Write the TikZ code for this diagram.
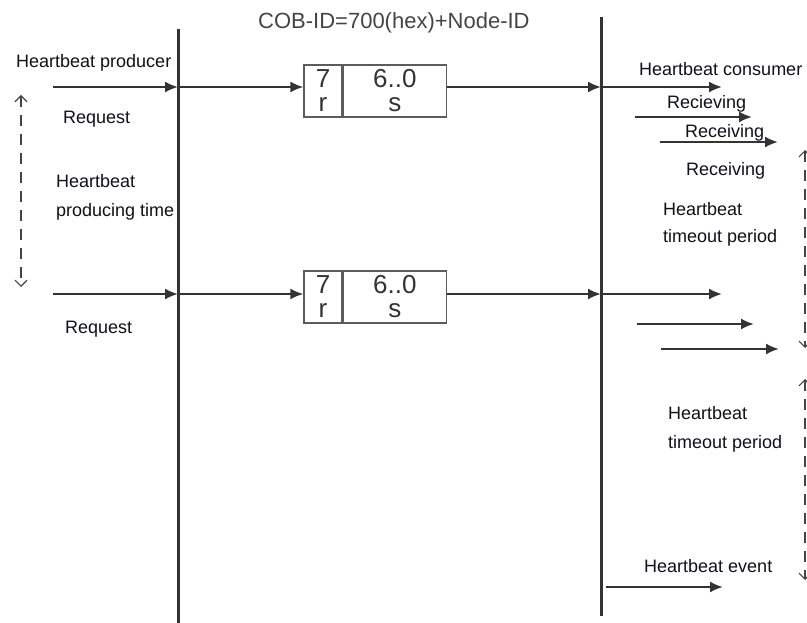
\documentclass[tikz,border=0pt]{standalone}
\usepackage{fontspec}
\setmainfont{Liberation Sans}
\usetikzlibrary{arrows.meta}
\definecolor{ln}{HTML}{333333}
\definecolor{txt}{HTML}{10101A}
\definecolor{ttl}{HTML}{444444}
\definecolor{dsh}{HTML}{444444}
\begin{document}
\begin{tikzpicture}[x=1pt,y=-1pt,
  lbl/.style={anchor=base west, inner sep=0pt, font=\fontsize{18}{20}\selectfont, text=txt},
  ttlstyle/.style={anchor=base west, inner sep=0pt, font=\fontsize{22}{24}\selectfont, text=ttl},
  msg/.style={draw=ln, line width=2pt, -{Latex[length=13pt,width=11pt]}},
  vline/.style={draw=ln, line width=3pt},
  cell/.style={draw=ln!80, line width=1.3pt, fill=white, inner sep=0pt, align=center,
               minimum height=52pt, font=\fontsize{26}{24}\selectfont, text=ln},
  period/.style={draw=dsh, line width=2.2pt, dash pattern=on 11pt off 8pt,
               {Straight Barb[length=6pt,width=12pt,line width=1.2pt]}-{Straight Barb[length=6pt,width=12pt,line width=1.2pt]}}]
\useasboundingbox (0,0) rectangle (807,623);

% lifelines
\coordinate (Ltop) at (178,29);
\coordinate (Lbot) at (178,623);
\coordinate (Rtop) at (601,17);
\coordinate (Rbot) at (601,616);
\draw[vline] (Ltop) -- (Lbot);
\draw[vline] (Rtop) -- (Rbot);

% title
\node[ttlstyle] (title) at (258,29) {COB-ID=700(hex)+Node-ID};

% left labels
\node[lbl] (prod) at (16,68) {Heartbeat producer};
\node[lbl] (req1) at (63,124) {Request};
\node[lbl] (hb1) at (56,188) {Heartbeat};
\node[lbl] (pt1) at (56,217) {producing time};
\node[lbl] (req2) at (65,333) {Request};

% right labels
\node[lbl] (cons) at (639,76) {Heartbeat consumer};
\node[lbl] (rc1) at (667,109) {Recieving};
\node[lbl] (rc2) at (685,138) {Receiving};
\node[lbl] (rc3) at (686,176) {Receiving};
\node[lbl] (hb2) at (663,216) {Heartbeat};
\node[lbl] (to2) at (663,243) {timeout period};
\node[lbl] (hb3) at (668,419) {Heartbeat};
\node[lbl] (to3) at (668,448) {timeout period};
\node[lbl] (ev) at (644,572) {Heartbeat event};

% message boxes
\node[cell, minimum width=38pt] (b1a) at (323,91) {7\\r};
\node[cell, minimum width=103pt, anchor=west] (b1b) at (b1a.east) {6..0\\s};
\node[cell, minimum width=38pt] (b2a) at (323,297) {7\\r};
\node[cell, minimum width=103pt, anchor=west] (b2b) at (b2a.east) {6..0\\s};

% row 1
\coordinate (p1) at (53,87);
\coordinate (l1) at (178,87);
\coordinate (r1) at (601,87);
\coordinate (c1) at (722,87);
\coordinate (d1s) at (635,117);
\coordinate (d1e) at (752,117);
\coordinate (e1s) at (660,142);
\coordinate (e1e) at (778,142);
\draw[msg] (p1) -- (l1);
\draw[msg] (l1) -- (b1a.west |- l1);
\draw[msg] (b1b.east |- r1) -- (r1);
\draw[msg] (r1) -- (c1);
\draw[msg] (d1s) -- (d1e);
\draw[msg] (e1s) -- (e1e);

% row 2
\coordinate (p2) at (53,294);
\coordinate (l2) at (178,294);
\coordinate (r2) at (601,294);
\coordinate (c2) at (722,294);
\coordinate (d2s) at (637,324);
\coordinate (d2e) at (754,324);
\coordinate (e2s) at (661,349);
\coordinate (e2e) at (779,349);
\draw[msg] (p2) -- (l2);
\draw[msg] (l2) -- (b2a.west |- l2);
\draw[msg] (b2b.east |- r2) -- (r2);
\draw[msg] (r2) -- (c2);
\draw[msg] (d2s) -- (d2e);
\draw[msg] (e2s) -- (e2e);

% heartbeat event
\coordinate (evs) at (606,587);
\coordinate (eve) at (723,587);
\draw[msg] (evs) -- (eve);

% periods
\coordinate (pa1) at (21,95);
\coordinate (pa2) at (21,287);
\coordinate (pb1) at (805,150);
\coordinate (pb2) at (805,348);
\coordinate (pc1) at (805,379);
\coordinate (pc2) at (805,580);
\draw[period] (pa1) -- (pa2);
\draw[period] (pb1) -- (pb2);
\draw[period] (pc1) -- (pc2);
\end{tikzpicture}
\end{document}
